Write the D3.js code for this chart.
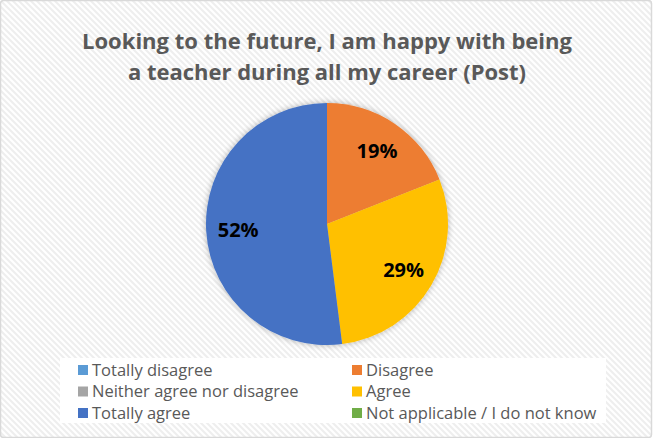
<!DOCTYPE html>
<html><head><meta charset="utf-8">
<script src="https://cdn.jsdelivr.net/npm/d3@7"></script>
<style>body{margin:0;background:#fff}svg{display:block}</style>
</head><body>
<svg id="c" width="653" height="438"></svg>
<script>
const titleLines = ["Looking to the future, I am happy with being", "a teacher during all my career (Post)"];
const categories = ["Totally disagree", "Disagree", "Neither agree nor disagree", "Agree", "Totally agree", "Not applicable / I do not know"];
const values = [0, 19, 0, 29, 52, 0];
const colors = ["#5b9bd5", "#ed7d31", "#a5a5a5", "#ffc000", "#4472c4", "#70ad47"];

const svg = d3.select("#c");
const W = 653, H = 438;
const defs = svg.append("defs");
const pat = defs.append("pattern").attr("id", "hatch").attr("patternUnits", "userSpaceOnUse")
  .attr("width", 6).attr("height", 6);
pat.append("rect").attr("width", 6).attr("height", 6).attr("fill", "#ffffff");
pat.append("path").attr("d", "M-1,-1 L7,7 M-1,5 L1,7 M5,-1 L7,1").attr("stroke", "#eeeeee").attr("stroke-width", 2);
const f = defs.append("filter").attr("id", "sh").attr("x", "-20%").attr("y", "-20%").attr("width", "140%").attr("height", "140%");
f.append("feGaussianBlur").attr("in", "SourceAlpha").attr("stdDeviation", 3).attr("result", "b");
f.append("feComponentTransfer").attr("in", "b").attr("result", "o2").append("feFuncA").attr("type", "linear").attr("slope", 0.3);
const m = f.append("feMerge"); m.append("feMergeNode").attr("in", "o2"); m.append("feMergeNode").attr("in", "SourceGraphic");

svg.append("rect").attr("x", 0.5).attr("y", 0.5).attr("width", W - 2).attr("height", H - 1)
  .attr("rx", 3).attr("fill", "url(#hatch)").attr("stroke", "#d9d9d9").attr("stroke-width", 1.5);

// Title
svg.append("g").selectAll("text").data(titleLines).join("text")
  .attr("x", 327).attr("y", (d, i) => 49 + i * 31)
  .attr("text-anchor", "middle")
  .attr("font-family", "'Open Sans', 'Liberation Sans', sans-serif")
  .attr("font-weight", "bold").attr("font-size", 22).attr("fill", "#595959")
  .attr("textLength", (d, i) => i === 0 ? 490 : 398).attr("lengthAdjust", "spacingAndGlyphs")
  .text(d => d);

// Pie
const cx = 327, cy = 224, R = 121;
const data = categories.map((c, i) => ({ cat: c, v: values[i], color: colors[i] }));
const pie = d3.pie().value(d => d.v).sort(null);
const arcs = pie(data);
const arc = d3.arc().innerRadius(0).outerRadius(R);
const labelArc = d3.arc().innerRadius(89).outerRadius(89);
const g = svg.append("g").attr("transform", `translate(${cx},${cy})`);
g.append("g").attr("filter", "url(#sh)").selectAll("path").data(arcs.filter(a => a.data.v > 0)).join("path")
  .attr("d", arc).attr("fill", d => d.data.color);
g.selectAll("text.lbl").data(arcs.filter(a => a.data.v > 0)).join("text").attr("class", "lbl")
  .attr("transform", d => `translate(${labelArc.centroid(d)})`)
  .attr("text-anchor", "middle").attr("dy", "0.36em")
  .attr("font-family", "'Open Sans', 'Liberation Sans', sans-serif")
  .attr("font-weight", "bold").attr("font-size", 20).attr("fill", "#000")
  .text(d => d3.format(".0f")(d.data.v / d3.sum(values) * 100) + "%");

// Legend
const lg = svg.append("g");
lg.append("rect").attr("x", 60).attr("y", 358).attr("width", 546).attr("height", 65).attr("fill", "#fff");
const items = lg.selectAll("g").data(data).join("g")
  .attr("transform", (d, i) => `translate(${i % 2 === 0 ? 78 : 352},${370 + Math.floor(i / 2) * 21.5})`);
items.append("rect").attr("x", 0).attr("y", -5).attr("width", 10).attr("height", 10).attr("fill", d => d.color);
items.append("text").attr("x", 14).attr("dy", "0.35em")
  .attr("font-family", "'Open Sans', 'Liberation Sans', sans-serif")
  .attr("font-size", 16.5).attr("fill", "#595959")
  .text(d => d.cat);
</script>
</body></html>
